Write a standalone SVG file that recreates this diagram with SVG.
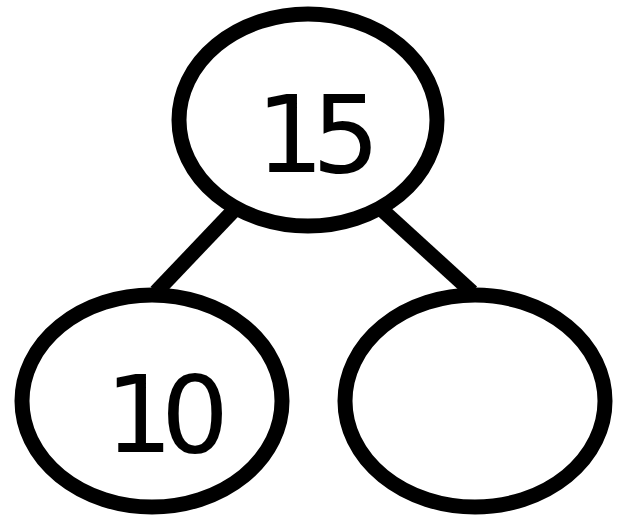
<svg xmlns="http://www.w3.org/2000/svg" width="640" height="527" viewBox="0 0 640 527">
<style>
.node ellipse{fill:#fff;stroke:#000;stroke-width:15}
.edge line{stroke:#000;stroke-width:15}
.lbl{font-family:"DejaVu Sans",sans-serif;font-size:107px;fill:#000;text-anchor:middle;letter-spacing:-12px}
</style>
<rect width="640" height="527" fill="#fff"/>
<g id="connectors" class="edge">
<line x1="236" y1="208" x2="156" y2="292"/>
<line x1="380" y1="208" x2="472" y2="292"/>
</g>
<g id="node-15" class="node">
<ellipse cx="308" cy="120" rx="129" ry="106"/>
<text class="lbl" x="312" y="172">15</text>
</g>
<g id="node-10" class="node">
<ellipse cx="152" cy="401" rx="130" ry="106"/>
<text class="lbl" x="161" y="452">10</text>
</g>
<g id="node-empty" class="node">
<ellipse cx="475" cy="401" rx="130" ry="106"/>
</g>
</svg>
